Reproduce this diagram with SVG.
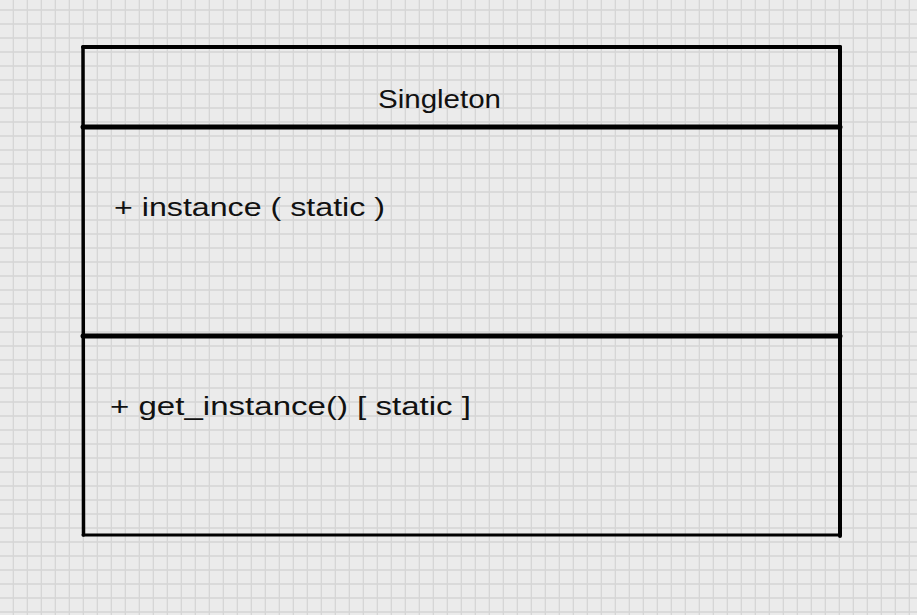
<svg xmlns="http://www.w3.org/2000/svg" width="917" height="615" viewBox="0 0 917 615">
  <defs>
    <pattern id="grid" x="0" y="0" width="14" height="14" patternUnits="userSpaceOnUse">
      <rect x="0" y="0" width="14" height="14" fill="#ebebeb"/>
      <line x1="13.5" y1="0" x2="13.5" y2="14" stroke="#d6d6d6" stroke-width="1.6"/>
      <line x1="0" y1="10" x2="14" y2="10" stroke="#d6d6d6" stroke-width="1.6"/>
    </pattern>
    <style>
      .edge { stroke: #000; fill: none; stroke-linecap: round; }
      .lbl { font-family: "Liberation Sans", "DejaVu Sans", sans-serif; font-size: 26px; fill: #111; }
    </style>
  </defs>
  <rect x="0" y="0" width="917" height="615" fill="url(#grid)"/>
  <g id="singleton">
    <line class="edge" x1="83" y1="47" x2="840" y2="47" stroke-width="4"/>
    <line class="edge" x1="83" y1="47" x2="83.5" y2="535" stroke-width="3.5"/>
    <line class="edge" x1="840" y1="47" x2="840" y2="536" stroke-width="4"/>
    <line class="edge" x1="83" y1="535" x2="840" y2="535" stroke-width="3"/>
    <line class="edge" x1="83" y1="127" x2="840" y2="127" stroke-width="5"/>
    <line class="edge" x1="83" y1="336" x2="840" y2="336" stroke-width="5"/>
    <text class="lbl" x="378" y="108" textLength="123" lengthAdjust="spacingAndGlyphs">Singleton</text>
    <text class="lbl" x="114" y="216" textLength="271" lengthAdjust="spacingAndGlyphs">+ instance ( static )</text>
    <text class="lbl" x="110" y="415" textLength="361" lengthAdjust="spacingAndGlyphs">+ get_instance() [ static ]</text>
  </g>
  <g id="connectors"></g>
</svg>
